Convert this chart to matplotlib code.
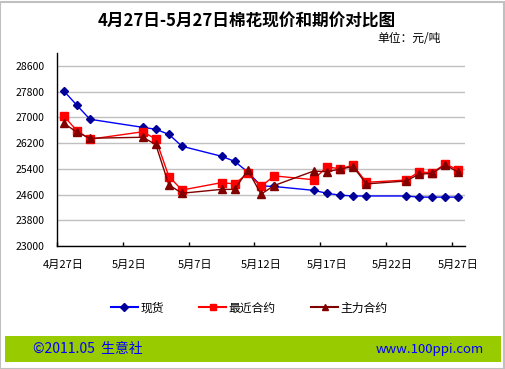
import numpy as np
import matplotlib
matplotlib.use("Agg")
import matplotlib.pyplot as plt
from matplotlib.patches import Rectangle
from matplotlib.lines import Line2D

plt.rcParams['font.family'] = ['Noto Sans CJK SC', 'DejaVu Sans']

# trading days, 2011
dates = ['2011-04-27', '2011-04-28', '2011-04-29', '2011-05-03', '2011-05-04',
         '2011-05-05', '2011-05-06', '2011-05-09', '2011-05-10', '2011-05-11',
         '2011-05-12', '2011-05-13', '2011-05-16', '2011-05-17', '2011-05-18',
         '2011-05-19', '2011-05-20', '2011-05-23', '2011-05-24', '2011-05-25',
         '2011-05-26', '2011-05-27']
spot = [27830, 27380, 26940, 26690, 26630, 26470, 26100, 25790, 25630, 25300,
        24870, 24850, 24730, 24640, 24580, 24555, 24555, 24555, 24520, 24520,
        24520, 24520]
nearest = [27050, 26590, 26320, 26550, 26330, 25160, 24740, 24970, 24930, 25260,
           24850, 25180, 25060, 25460, 25400, 25510, 24980, 25050, 25300, 25280,
           25550, 25360]
main = [26820, 26540, 26350, 26380, 26160, 24900, 24640, 24760, 24760, 25360,
        24610, 24880, 25330, 25310, 25390, 25470, 24930, 25020, 25230, 25260,
        25520, 25290]
yticks = [23000, 23800, 24600, 25400, 26200, 27000, 27800, 28600]
xlabels = ['4月27日', '5月2日', '5月7日', '5月12日', '5月17日', '5月22日', '5月27日']

W, H = 506, 369
fig = plt.figure(figsize=(W / 100, H / 100), dpi=100)
fig.patch.set_facecolor('white')

# outer frame and footer band
fig.patches.append(Rectangle((0.5 / W, 0.5 / H), (W - 2) / W, (H - 2) / H,
                             transform=fig.transFigure, fill=False,
                             edgecolor='#C0C0C0', linewidth=1.5))
fig.patches.append(Rectangle((5 / W, (H - 362) / H), 496 / W, 26 / H,
                             transform=fig.transFigure, facecolor='#99CC00',
                             edgecolor='none'))

ax = fig.add_axes([57 / W, (H - 246) / H, 408 / W, 193 / H])

# put each point in the middle of its day
start = np.datetime64('2011-04-27', 'h')
x = (np.array(dates, dtype='datetime64[D]').astype('datetime64[h]')
     + np.timedelta64(12, 'h')).astype(object)

ax.plot(x, spot, color='#0000FF', linewidth=1, marker='D', markersize=4,
        markerfacecolor='#000099', markeredgecolor='#000099', label='现货')
ax.plot(x, nearest, color='#FF0000', linewidth=1, marker='s', markersize=6,
        markerfacecolor='#FF0000', markeredgecolor='#FF0000', label='最近合约')
ax.plot(x, main, color='#800000', linewidth=1, marker='^', markersize=6,
        markerfacecolor='#800000', markeredgecolor='#800000', label='主力合约')

ax.set_xlim(start.astype(object), (start + np.timedelta64(31 * 24, 'h')).astype(object))
ax.set_ylim(23000, 29000)

major = [(start + np.timedelta64(d * 24, 'h')).astype(object) for d in range(0, 31, 5)]
minor = [(start + np.timedelta64(d * 24 + 12, 'h')).astype(object) for d in range(0, 31, 5)]
ax.set_xticks(major)
ax.set_xticklabels([])
ax.set_xticks(minor, minor=True)
ax.set_xticklabels(xlabels, minor=True, fontsize=8)
ax.tick_params(axis='x', which='major', direction='in', length=3, width=1, color='black')
ax.tick_params(axis='x', which='minor', length=0, pad=10)

ax.set_yticks(yticks)
ax.set_yticklabels([str(v) for v in yticks], fontsize=7.5)
ax.tick_params(axis='y', length=0, pad=9)
ax.grid(axis='y', color='#C0C0C0', linewidth=1)
ax.set_axisbelow(True)
for s in ['top', 'right']:
    ax.spines[s].set_visible(False)
for s in ['left', 'bottom']:
    ax.spines[s].set_color('black')
    ax.spines[s].set_linewidth(1)

fig.text(247 / W, 1 - 22 / H, '4月27日-5月27日棉花现价和期价对比图', ha='center',
         va='center', fontsize=12, fontweight='bold')
fig.text(441 / W, 1 - 38 / H, '单位：元/吨', ha='right', va='center', fontsize=8.5)

handles = [Line2D([], [], color='#0000FF', marker='D', markersize=4,
                  markerfacecolor='#000099', markeredgecolor='#000099'),
           Line2D([], [], color='#FF0000', marker='s', markersize=5),
           Line2D([], [], color='#800000', marker='^', markersize=5)]
fig.legend(handles, ['现货', '最近合约', '主力合约'], loc='center',
           bbox_to_anchor=(249 / W, 1 - 308 / H), ncol=3, frameon=False,
           fontsize=8.5, handlelength=2.3, columnspacing=3, handletextpad=0.2)

fig.text(33 / W, 1 - 349 / H, '©2011.05  生意社', ha='left', va='center',
         fontsize=10, color='#0000FF')
fig.text(484 / W, 1 - 349 / H, 'www.100ppi.com', ha='right', va='center',
         fontsize=9.5, color='#0000FF')

fig.savefig('out.png', dpi=100)
